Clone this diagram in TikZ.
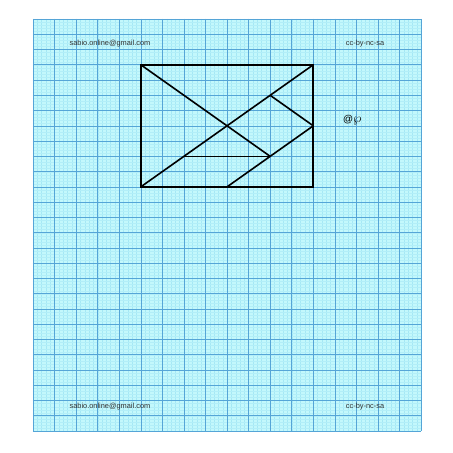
\documentclass[tikz,border=0pt]{standalone}
\usepackage{fontspec}
\setmainfont{Liberation Sans}
\definecolor{paper}{RGB}{195,248,252}
\definecolor{minorc}{RGB}{165,232,245}
\definecolor{minorh}{RGB}{178,238,248}
\definecolor{majorc}{RGB}{85,165,215}
\definecolor{textc}{RGB}{50,50,50}
\begin{document}
\begin{tikzpicture}[x=21.56pt,y=-15.26pt,
  minorline/.style={draw=minorc,line width=0.25pt},
  minorhline/.style={draw=minorh,line width=0.2pt},
  majorline/.style={draw=majorc,line width=0.6pt},
  piece/.style={draw=black,line width=1.6pt,line join=miter},
  label/.style={font=\fontsize{7.4}{8}\selectfont,text=textc,inner sep=0pt}]
\useasboundingbox (-1.5306,-1.2451) rectangle (19.480,28.440);
\fill[white] (-1.5306,-1.2451) rectangle (19.480,28.440);
\fill[paper] (0,0) rectangle (18,27);
\foreach \i in {1,...,89} {\draw[minorline] (\i/5,0) -- (\i/5,27);}
\foreach \j in {1,...,134} {\draw[minorhline] (0,\j/5) -- (18,\j/5);}
\foreach \i in {0,...,18} {\draw[majorline] (\i,0) -- (\i,27);}
\foreach \j in {0,...,27} {\draw[majorline] (0,\j) -- (18,\j);}
% tangram
\coordinate (A) at (5,3);
\coordinate (B) at (13,3);
\coordinate (C) at (13,11);
\coordinate (D) at (5,11);
\coordinate (M) at (9,7);
\coordinate (P) at (11,5);
\coordinate (Q) at (13,7);
\coordinate (R) at (11,9);
\coordinate (S) at (9,11);
\coordinate (T) at (7,9);
\draw[piece] (A) -- (B) -- (C) -- (D) -- cycle;
\draw[piece] (A) -- (R);
\draw[piece] (D) -- (B);
\draw[piece] (P) -- (Q);
\draw[piece] (Q) -- (S);
\draw[piece] (T) -- (R);
\node[label] (t1) at (3.57,1.64) {sabio.online@gmail.com};
\node[label] (t2) at (15.4,1.64) {cc-by-nc-sa};
\node[label] (t3) at (3.57,25.4) {sabio.online@gmail.com};
\node[label] (t4) at (15.4,25.4) {cc-by-nc-sa};
\node[inner sep=0pt,font=\fontsize{10}{11}\selectfont\itshape] (g) at (14.8,6.6) {@\scalebox{1.3}{$\wp$}};
\end{tikzpicture}
\end{document}
